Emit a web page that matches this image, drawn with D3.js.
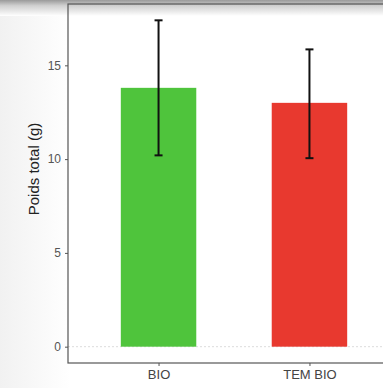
<!DOCTYPE html>
<html lang="fr">
<head>
<meta charset="UTF-8">
<title>Poids total</title>
<script src="https://cdn.jsdelivr.net/npm/d3@7"></script>
<style>
  body { margin: 0; background: #fff; }
  text { font-family: "Liberation Sans", Arial, sans-serif; }
</style>
</head>
<body>
<script>
var categories = ["BIO", "TEM BIO"];
var means = [13.8, 13.0];
var lower = [10.2, 10.05];
var upper = [17.4, 15.85];
var yTicks = [0, 5, 10, 15];
var colors = ["#4fc43c", "#e8392f"];

var w = 383, h = 388;

var svg = d3.select("body").append("svg")
  .attr("width", w)
  .attr("height", h);

// scan shading at the top and left edge
var defs = svg.append("defs");
var gTop = defs.append("linearGradient").attr("id", "topShade")
  .attr("x1", 0).attr("y1", 0).attr("x2", 0).attr("y2", 1);
gTop.append("stop").attr("offset", "0%").attr("stop-color", "#9a9a9a");
gTop.append("stop").attr("offset", "35%").attr("stop-color", "#cfcfcf");
gTop.append("stop").attr("offset", "100%").attr("stop-color", "#ffffff");
var gLeft = defs.append("linearGradient").attr("id", "leftShade")
  .attr("x1", 0).attr("y1", 0).attr("x2", 1).attr("y2", 0);
gLeft.append("stop").attr("offset", "0%").attr("stop-color", "#f1f1f1");
gLeft.append("stop").attr("offset", "100%").attr("stop-color", "#ffffff");

svg.append("rect").attr("width", 70).attr("height", h).attr("fill", "url(#leftShade)");
svg.append("rect").attr("width", w).attr("height", 16).attr("fill", "url(#topShade)");

var pLeft = 68, pRight = 400, pTop = 4, pBottom = 363;

// ggplot style expansion: discrete 0.6, continuous 5%
var x = d3.scaleLinear()
  .domain([0.4, categories.length + 0.6])
  .range([pLeft, pRight]);
var ymax = d3.max(upper);
var y = d3.scaleLinear()
  .domain([-0.05 * ymax, ymax * 1.05])
  .range([pBottom, pTop]);

var barW = 0.5;

// faint zero line
svg.append("line")
  .attr("x1", pLeft).attr("x2", pRight)
  .attr("y1", y(0)).attr("y2", y(0))
  .attr("stroke", "#dcdcdc")
  .attr("stroke-width", 1)
  .attr("stroke-dasharray", "2,2");

svg.selectAll("rect.bar")
  .data(means)
  .enter()
  .append("rect")
  .attr("class", "bar")
  .attr("x", function(d, i) { return x(i + 1 - barW / 2) })
  .attr("width", function(d, i) { return x(i + 1 + barW / 2) - x(i + 1 - barW / 2) })
  .attr("y", function(d) { return y(d) })
  .attr("height", function(d) { return y(0) - y(d) })
  .attr("fill", function(d, i) { return colors[i] });

// error bars
var err = svg.selectAll("g.err")
  .data(categories)
  .enter()
  .append("g")
  .attr("class", "err")
  .attr("stroke", "#111")
  .attr("stroke-width", 2);
err.append("line")
  .attr("x1", function(d, i) { return x(i + 1) })
  .attr("x2", function(d, i) { return x(i + 1) })
  .attr("y1", function(d, i) { return y(upper[i]) })
  .attr("y2", function(d, i) { return y(lower[i]) });
err.append("line")
  .attr("x1", function(d, i) { return x(i + 1) - 4 })
  .attr("x2", function(d, i) { return x(i + 1) + 4 })
  .attr("y1", function(d, i) { return y(upper[i]) })
  .attr("y2", function(d, i) { return y(upper[i]) });
err.append("line")
  .attr("x1", function(d, i) { return x(i + 1) - 4 })
  .attr("x2", function(d, i) { return x(i + 1) + 4 })
  .attr("y1", function(d, i) { return y(lower[i]) })
  .attr("y2", function(d, i) { return y(lower[i]) });

// panel border
svg.append("rect")
  .attr("x", pLeft).attr("y", pTop)
  .attr("width", pRight - pLeft).attr("height", pBottom - pTop)
  .attr("fill", "none")
  .attr("stroke", "#555")
  .attr("stroke-width", 1.2);

// axes
var yAxis = d3.axisLeft(y).tickValues(yTicks).tickSize(3).tickPadding(4);
var gy = svg.append("g").attr("transform", "translate(" + pLeft + ",0)").call(yAxis);
gy.select(".domain").remove();
gy.selectAll(".tick line").attr("stroke", "#555");
gy.selectAll(".tick text").attr("fill", "#555").attr("font-size", 12);

var xAxis = d3.axisBottom(x)
  .tickValues(categories.map(function(d, i) { return i + 1 }))
  .tickFormat(function(d) { return categories[d - 1] })
  .tickSize(3).tickPadding(4);
var gx = svg.append("g").attr("transform", "translate(0," + pBottom + ")").call(xAxis);
gx.select(".domain").remove();
gx.selectAll(".tick line").attr("stroke", "#555");
gx.selectAll(".tick text").attr("fill", "#444").attr("font-size", 13);

svg.append("text")
  .attr("transform", "translate(39,169) rotate(-90)")
  .attr("text-anchor", "middle")
  .attr("font-size", 15)
  .attr("fill", "#222")
  .text("Poids total (g)");
</script>
</body>
</html>
